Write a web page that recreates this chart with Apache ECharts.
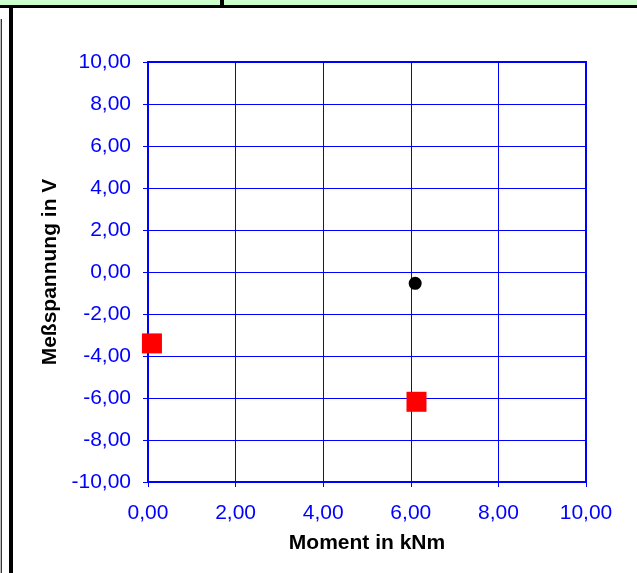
<!DOCTYPE html>
<html>
<head>
<meta charset="utf-8">
<script src="https://cdn.jsdelivr.net/npm/echarts@6/dist/echarts.min.js"></script>
<style>html,body{margin:0;padding:0;background:#fff;}#c{width:637px;height:573px;}</style>
</head>
<body>
<div id="c"></div>
<script>
const xTitle = 'Moment in kNm';
const yTitle = 'Meßspannung in V';
const circleData = [[6.10, -0.54]];
const squareData = [[0.09, -3.40], [6.13, -6.18]];
const xRange = [0, 10, 2];
const yRange = [-10, 10, 2];

const fmt = v => v.toFixed(2).replace('.', ',');
const blue = '#0000ff';
const chart = echarts.init(document.getElementById('c'), null, {renderer: 'canvas'});
chart.setOption({
  animation: false,
  backgroundColor: '#ffffff',
  grid: {left: 148, top: 62, width: 438, height: 420, show: true, borderColor: blue, borderWidth: 2, backgroundColor: 'transparent'},
  xAxis: {
    type: 'value', min: xRange[0], max: xRange[1], interval: xRange[2],
    name: xTitle, nameLocation: 'middle', nameGap: 51,
    nameTextStyle: {color: '#000', fontFamily: 'Liberation Sans', fontWeight: 'bold', fontSize: 21},
    axisLine: {show: true, onZero: false, lineStyle: {color: blue, width: 2}},
    axisTick: {show: true, length: 5, lineStyle: {color: blue, width: 1}},
    axisLabel: {color: blue, fontFamily: 'Liberation Sans', fontSize: 21, margin: 21, formatter: fmt},
    splitLine: {show: true, lineStyle: {color: blue, width: 1}}
  },
  yAxis: {
    type: 'value', min: yRange[0], max: yRange[1], interval: yRange[2],
    name: yTitle, nameLocation: 'middle', nameGap: 86, nameRotate: 90,
    nameTextStyle: {color: '#000', fontFamily: 'Liberation Sans', fontWeight: 'bold', fontSize: 21},
    axisLine: {show: true, onZero: false, lineStyle: {color: blue, width: 2}},
    axisTick: {show: true, length: 5, lineStyle: {color: blue, width: 1}},
    axisLabel: {color: blue, fontFamily: 'Liberation Sans', fontSize: 21, margin: 17, formatter: fmt},
    splitLine: {show: true, lineStyle: {color: blue, width: 1}}
  },
  series: [
    {type: 'scatter', data: circleData, symbol: 'circle', symbolSize: 13, itemStyle: {color: '#000', opacity: 1}},
    {type: 'scatter', data: squareData, symbol: 'rect', symbolSize: 20, itemStyle: {color: '#ff0000', opacity: 1}}
  ],
  graphic: [
    {type: 'rect', shape: {x: 0, y: 0, width: 637, height: 5}, style: {fill: '#ccffcc'}, silent: true},
    {type: 'rect', shape: {x: 0, y: 5, width: 637, height: 3}, style: {fill: '#000'}, silent: true},
    {type: 'rect', shape: {x: 220, y: 0, width: 4, height: 5}, style: {fill: '#000'}, silent: true},
    {type: 'rect', shape: {x: 9, y: 5, width: 4, height: 568}, style: {fill: '#000'}, silent: true},
    {type: 'rect', shape: {x: 0, y: 19, width: 1, height: 554}, style: {fill: '#bbbbbb'}, silent: true},
    {type: 'rect', shape: {x: 1, y: 19, width: 1, height: 554}, style: {fill: '#333333'}, silent: true}
  ]
});
</script>
</body>
</html>
